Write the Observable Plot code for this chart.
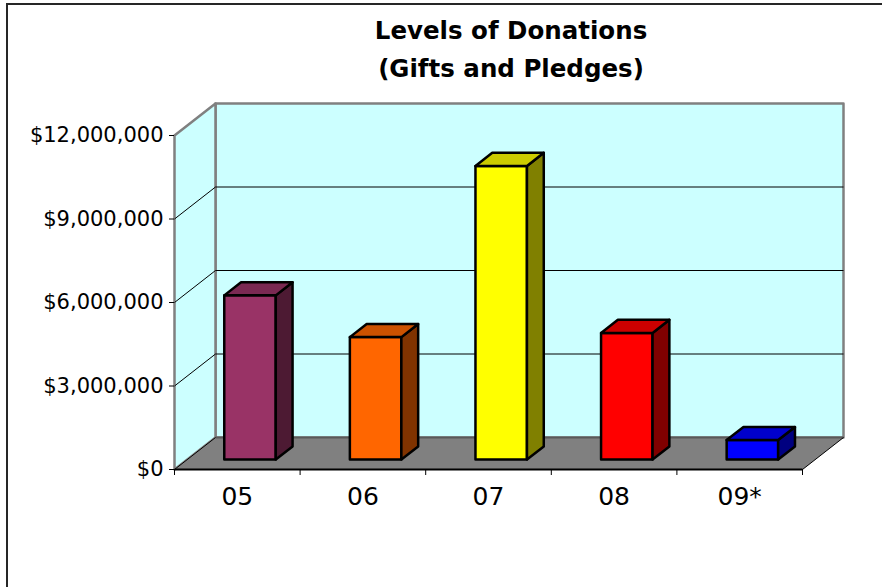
<!DOCTYPE html>
<html>
<head>
<meta charset="utf-8">
<script src="https://cdn.jsdelivr.net/npm/d3@7"></script>
<script src="https://cdn.jsdelivr.net/npm/@observablehq/plot@0.6"></script>
<style>
  html, body { margin: 0; padding: 0; background: #fff; width: 882px; height: 587px; overflow: hidden; }
  #frame { position: absolute; left: 6px; top: 3px; width: 920px; height: 720px; border: 2px solid #262626; box-sizing: border-box; }
  #chart { position: absolute; left: 0; top: 0; }
  #title { position: absolute; left: 261px; width: 500px; top: 12px; text-align: center;
           font-family: "DejaVu Sans", sans-serif; font-weight: bold; font-size: 24.5px; line-height: 38px; color: #000; }
</style>
</head>
<body>
<div id="frame"></div>
<div id="chart"></div>
<div id="title">Levels of Donations<br>(Gifts and Pledges)</div>
<script>
// Fiscal years and total gifts + pledges (USD)
const years = ["05", "06", "07", "08", "09*"];
const donations = [5900000, 4400000, 10550000, 4550000, 700000];

// Bar colours: front face, top face, right side face
const frontColors = ["#993366", "#FF6600", "#FFFF00", "#FF0000", "#0000FF"];
const topColors   = ["#7A2952", "#CC5200", "#CCCC00", "#CC0000", "#0000CC"];
const sideColors  = ["#4D1A33", "#803300", "#808000", "#800000", "#000080"];

// Value axis ticks
const yTicks = [0, 3000000, 6000000, 9000000, 12000000];

// Layout of the pseudo-3D box
const W = 882, H = 587;
const margin = {left: 174, right: 80, top: 135, bottom: 118};
const depthPx = {x: 41, y: 32};       // receding offset of the back wall
const barWidth = 0.41;                 // fraction of a category band
const barNear = 0.31, barFar = 0.72;   // bar depth within the box (0 = front, 1 = back)

const n = years.length;
const yMax = yTicks[yTicks.length - 1];
const pxPerX = (W - margin.left - margin.right) / n;
const pxPerY = (H - margin.top - margin.bottom) / yMax;
const DU = depthPx.x / pxPerX;   // depth offset in x units
const DV = depthPx.y / pxPerY;   // depth offset in value units

// project a point (category position, value, depth) into the x/y data space
const P = (x, v, d) => ({x: x + d * DU, y: v + d * DV});

function polys(faces) {
  const rows = [];
  faces.forEach((f, k) => f.pts.forEach(p => rows.push({id: k, fill: f.fill, x: p.x, y: p.y})));
  return rows;
}

const floorFace = [{fill: "#808080", pts: [P(0, 0, 0), P(n, 0, 0), P(n, 0, 1), P(0, 0, 1)]}];
const wallFaces = [
  {fill: "#CCFFFF", pts: [P(0, 0, 1), P(n, 0, 1), P(n, yMax, 1), P(0, yMax, 1)]},
  {fill: "#CCFFFF", pts: [P(0, 0, 0), P(0, 0, 1), P(0, yMax, 1), P(0, yMax, 0)]}
];

const gridLinks = [];
yTicks.filter(v => v > 0 && v < yMax).forEach(v => {
  const a = P(0, v, 0), b = P(0, v, 1), c = P(n, v, 1);
  gridLinks.push({x1: a.x, y1: a.y, x2: b.x, y2: b.y});
  gridLinks.push({x1: b.x, y1: b.y, x2: c.x, y2: c.y});
});

const edge = (a, b) => ({x1: a.x, y1: a.y, x2: b.x, y2: b.y});
const floorBack = [edge(P(0, 0, 1), P(n, 0, 1))];
const floorSides = [edge(P(0, 0, 0), P(0, 0, 1)), edge(P(n, 0, 0), P(n, 0, 1))];
const floorFront = [edge(P(0, 0, 0), P(n, 0, 0))];

const barFaces = [];
donations.forEach((v, i) => {
  const l = i + 0.5 - barWidth / 2, r = i + 0.5 + barWidth / 2;
  barFaces.push({fill: frontColors[i], pts: [P(l, 0, barNear), P(r, 0, barNear), P(r, v, barNear), P(l, v, barNear)]});
  barFaces.push({fill: sideColors[i],  pts: [P(r, 0, barNear), P(r, 0, barFar), P(r, v, barFar), P(r, v, barNear)]});
  barFaces.push({fill: topColors[i],   pts: [P(l, v, barNear), P(r, v, barNear), P(r, v, barFar), P(l, v, barFar)]});
});

const boundaries = d3.range(n + 1);
const centers = years.map((_, i) => i + 0.5);

const chart = Plot.plot({
  width: W,
  height: H,
  marginLeft: margin.left,
  marginRight: margin.right,
  marginTop: margin.top,
  marginBottom: margin.bottom,
  style: {fontFamily: "DejaVu Sans, sans-serif", fontSize: "21px", background: "transparent", color: "#000", overflow: "visible"},
  x: {domain: [0, n]},
  y: {domain: [0, yMax]},
  color: {type: "identity"},
  marks: [
    Plot.line(polys(floorFace), {x: "x", y: "y", z: "id", fill: "fill", stroke: "none", curve: "linear-closed"}),
    Plot.line(polys(wallFaces), {x: "x", y: "y", z: "id", fill: "fill", stroke: "#808080", strokeWidth: 2.5, curve: "linear-closed"}),
    Plot.link(gridLinks, {x1: "x1", y1: "y1", x2: "x2", y2: "y2", stroke: "#000", strokeWidth: 1}),
    Plot.link(floorBack, {x1: "x1", y1: "y1", x2: "x2", y2: "y2", stroke: "#595959", strokeWidth: 2}),
    Plot.link(floorSides, {x1: "x1", y1: "y1", x2: "x2", y2: "y2", stroke: "#000", strokeWidth: 1}),
    Plot.link(floorFront, {x1: "x1", y1: "y1", x2: "x2", y2: "y2", stroke: "#000", strokeWidth: 2}),
    Plot.line(polys(barFaces), {x: "x", y: "y", z: "id", fill: "fill", stroke: "#000", strokeWidth: 2.5, strokeLinejoin: "round", curve: "linear-closed"}),
    Plot.axisY({ticks: yTicks, tickFormat: d3.format("$,"), tickSize: 5, tickPadding: 6, stroke: "#000", fontSize: 21}),
    Plot.axisX({ticks: boundaries, tickFormat: () => "", tickSize: 6, stroke: "#000"}),
    Plot.axisX({ticks: centers, tickFormat: d => years[Math.round(d - 0.5)], tickSize: 0, tickPadding: 18, fontSize: 25})
  ]
});
document.getElementById("chart").appendChild(chart);
</script>
</body>
</html>
